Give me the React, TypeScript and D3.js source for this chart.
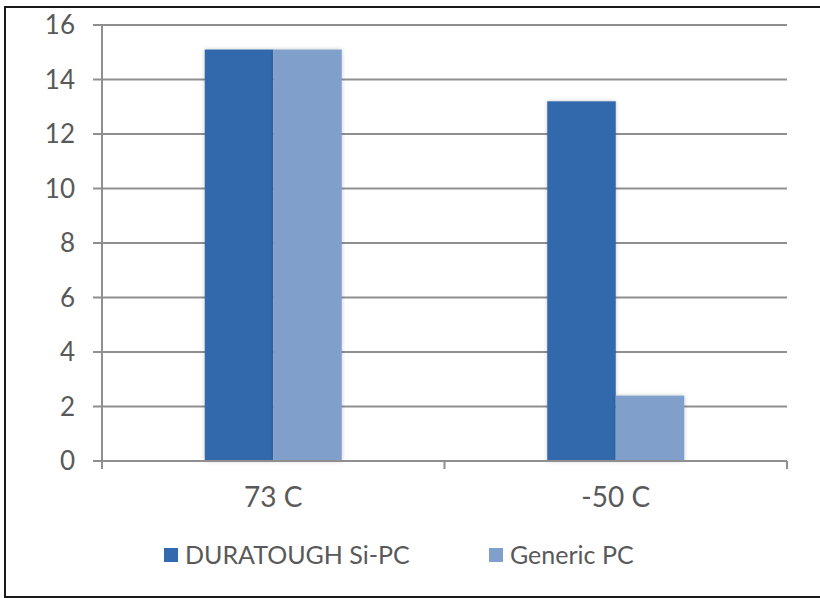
import React, { useEffect, useRef } from "react";
import * as d3 from "d3";

const categories = ["73 C", "-50 C"];
const seriesNames = ["DURATOUGH Si-PC", "Generic PC"];
const duratough = [15.1, 13.2];
const generic = [15.1, 2.4];
const yTicks = [0, 2, 4, 6, 8, 10, 12, 14, 16];
const colors = ["#3369ad", "#809fcb"];

const W = 820;
const H = 598;
const margin = { top: 25, right: 33, bottom: 137, left: 102 };
const FONT = "Lato, 'DejaVu Sans', sans-serif";
const TEXT = "#595959";
const GRID = "#8f8f8f";

const App: React.FC = () => {
  const svgRef = useRef<SVGSVGElement | null>(null);

  useEffect(() => {
    if (!svgRef.current) return;
    const svg = d3.select(svgRef.current);
    svg.selectAll("*").remove();

    const innerW = W - margin.left - margin.right;
    const innerH = H - margin.top - margin.bottom;

    // outer frame
    svg
      .append("rect")
      .attr("x", 5)
      .attr("y", 7)
      .attr("width", W + 20)
      .attr("height", H - 8)
      .attr("fill", "white")
      .attr("stroke", "#1a1a1a")
      .attr("stroke-width", 2);

    const defs = svg.append("defs");
    const filter = defs
      .append("filter")
      .attr("id", "shadow")
      .attr("x", "-20%")
      .attr("y", "-20%")
      .attr("width", "140%")
      .attr("height", "140%");
    filter
      .append("feDropShadow")
      .attr("dx", 0)
      .attr("dy", 0)
      .attr("stdDeviation", 2)
      .attr("flood-color", "#000")
      .attr("flood-opacity", 0.22);

    const g = svg
      .append("g")
      .attr("transform", `translate(${margin.left},${margin.top})`);

    const x = d3.scaleBand().domain(categories).range([0, innerW]);
    const xSub = d3
      .scaleBand()
      .domain(seriesNames)
      .range([0, x.bandwidth()])
      .paddingInner(0)
      .paddingOuter(1.5);
    const y = d3.scaleLinear().domain([0, 16]).range([innerH, 0]);

    // gridlines + y ticks
    g.selectAll(".grid")
      .data(yTicks)
      .enter()
      .append("line")
      .attr("x1", -9)
      .attr("x2", innerW)
      .attr("y1", (d) => y(d))
      .attr("y2", (d) => y(d))
      .attr("stroke", GRID)
      .attr("stroke-width", 2);

    g.selectAll(".ylabel")
      .data(yTicks)
      .enter()
      .append("text")
      .attr("x", -27)
      .attr("y", (d) => y(d))
      .attr("dy", "0.36em")
      .attr("text-anchor", "end")
      .attr("font-family", FONT)
      .attr("font-size", 26)
      .attr("fill", TEXT)
      .text((d) => d);

    // y axis line
    g.append("line")
      .attr("x1", 0)
      .attr("x2", 0)
      .attr("y1", 0)
      .attr("y2", innerH)
      .attr("stroke", GRID)
      .attr("stroke-width", 2);

    // x tick marks at band boundaries
    const xBounds = [0, ...categories.map((c) => (x(c) ?? 0) + x.bandwidth())];
    g.selectAll(".xtick")
      .data(xBounds)
      .enter()
      .append("line")
      .attr("x1", (d) => d)
      .attr("x2", (d) => d)
      .attr("y1", innerH)
      .attr("y2", innerH + 8)
      .attr("stroke", GRID)
      .attr("stroke-width", 2);

    // bars
    const rows = categories.map((c, i) => ({
      cat: c,
      values: [duratough[i], generic[i]],
    }));
    const groups = g
      .selectAll(".grp")
      .data(rows)
      .enter()
      .append("g")
      .attr("transform", (d) => `translate(${x(d.cat)},0)`);
    groups
      .selectAll("rect")
      .data((d) => d.values.map((v, k) => ({ v, k })))
      .enter()
      .append("rect")
      .attr("x", (d) => xSub(seriesNames[d.k]) ?? 0)
      .attr("y", (d) => y(d.v))
      .attr("width", xSub.bandwidth())
      .attr("height", (d) => innerH - y(d.v))
      .attr("fill", (d) => colors[d.k])
      .attr("filter", "url(#shadow)");

    // x axis line on top of bars
    g.append("line")
      .attr("x1", -9)
      .attr("x2", innerW)
      .attr("y1", innerH)
      .attr("y2", innerH)
      .attr("stroke", GRID)
      .attr("stroke-width", 2);

    g.selectAll(".xlabel")
      .data(categories)
      .enter()
      .append("text")
      .attr("x", (d) => (x(d) ?? 0) + x.bandwidth() / 2)
      .attr("y", innerH + 46)
      .attr("text-anchor", "middle")
      .attr("font-family", FONT)
      .attr("font-size", 28)
      .attr("fill", TEXT)
      .text((d) => d);

    // legend
    const legendX = [164, 489];
    const legend = svg
      .selectAll(".legend")
      .data(seriesNames)
      .enter()
      .append("g")
      .attr("transform", (_, i) => `translate(${legendX[i]},548)`);
    legend
      .append("rect")
      .attr("width", 14)
      .attr("height", 14)
      .attr("fill", (_, i) => colors[i]);
    legend
      .append("text")
      .attr("x", 21)
      .attr("y", 16)
      .attr("font-family", FONT)
      .attr("font-size", 25)
      .attr("fill", TEXT)
      .text((d) => d);
  }, []);

  return (
    <div style={{ position: "fixed", left: 0, top: 0 }}>
      <svg ref={svgRef} width={W} height={H} style={{ display: "block" }} />
    </div>
  );
};

export default App;
